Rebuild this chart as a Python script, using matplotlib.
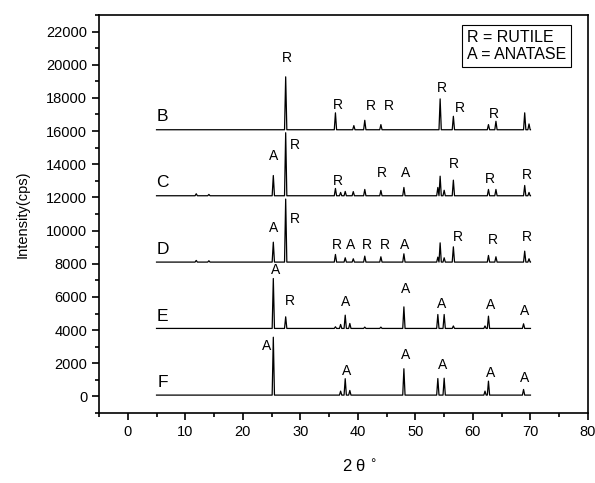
import matplotlib
matplotlib.use('Agg')
import matplotlib.pyplot as plt
from matplotlib.ticker import MultipleLocator

plt.rcParams['font.family'] = ['Liberation Sans', 'DejaVu Sans']

# XRD patterns: baseline offset and (2theta, net intensity) for each peak
names = ['B', 'C', 'D', 'E', 'F']
baselines = [16080, 12100, 8100, 4100, 80]

B_pos = [27.45, 36.1, 39.3, 41.2, 44.0, 54.3, 56.6, 62.7, 64.0, 69.0, 69.75]
B_int = [3190, 1020, 250, 570, 310, 1860, 810, 310, 510, 1020, 350]

C_pos = [11.9, 14.1, 25.3, 27.45, 36.1, 37.0, 37.8, 39.2, 41.2, 44.0, 48.0, 53.9, 54.3, 55.0, 56.6, 62.7, 64.0, 69.0, 69.75]
C_int = [120, 80, 1220, 3800, 440, 200, 260, 250, 380, 320, 500, 500, 1180, 330, 940, 380, 380, 620, 200]

D_pos = [11.9, 14.1, 25.3, 27.45, 36.1, 37.8, 39.2, 41.2, 44.0, 48.0, 53.9, 54.3, 55.0, 56.6, 62.7, 64.0, 69.0, 69.75]
D_int = [100, 80, 1200, 3800, 460, 260, 200, 360, 320, 500, 300, 1160, 260, 920, 400, 320, 660, 200]

E_pos = [25.3, 27.45, 36.1, 37.0, 37.8, 38.6, 41.2, 44.0, 48.0, 53.9, 55.0, 56.6, 62.1, 62.7, 68.8]
E_int = [3010, 700, 100, 240, 800, 300, 80, 80, 1300, 840, 840, 150, 150, 740, 280]

F_pos = [25.3, 37.0, 37.8, 38.6, 48.0, 53.9, 55.0, 62.1, 62.7, 68.8]
F_int = [3490, 240, 990, 280, 1590, 1000, 1020, 240, 840, 340]

peaks = [(B_pos, B_int), (C_pos, C_int), (D_pos, D_int), (E_pos, E_int), (F_pos, F_int)]
scan_start, scan_end = 5, 70

# peak annotations (label, 2theta, intensity)
B_marks = [('R', 27.6, 20410), ('R', 36.6, 17600), ('R', 42.3, 17500), ('R', 45.4, 17500),
           ('R', 54.55, 18600), ('R', 57.7, 17400), ('R', 63.65, 17000)]
C_marks = [('A', 25.3, 14480), ('R', 29.0, 15190), ('R', 36.6, 12980), ('R', 44.2, 13480),
           ('A', 48.3, 13480), ('R', 56.75, 14020), ('R', 62.95, 13080), ('R', 69.45, 13380)]
D_marks = [('A', 25.3, 10170), ('R', 29.0, 10670), ('R', 36.3, 9160), ('A', 38.7, 9160),
           ('R', 41.5, 9160), ('R', 44.7, 9160), ('A', 48.2, 9160), ('R', 57.3, 9600),
           ('R', 63.4, 9460), ('R', 69.45, 9600)]
E_marks = [('A', 25.7, 7650), ('R', 28.2, 5740), ('A', 37.9, 5710), ('A', 48.35, 6450),
           ('A', 54.55, 5550), ('A', 63.1, 5500), ('A', 69.0, 5180)]
F_marks = [('A', 24.1, 3030), ('A', 38.1, 1520), ('A', 48.35, 2490), ('A', 54.8, 1870),
           ('A', 63.1, 1420), ('A', 69.0, 1130)]
all_marks = B_marks + C_marks + D_marks + E_marks + F_marks

name_x = 6.1
name_y = [16880, 12900, 8860, 4800, 860]


def build_trace(base, pos, inten, hw=0.2):
    pts = [(scan_start, base), (scan_end, base)]
    for p, h in zip(pos, inten):
        pts += [(p - hw, base), (p, base + h), (p + hw, base)]
    pts.sort()
    return [p[0] for p in pts], [p[1] for p in pts]


fig = plt.figure(figsize=(5.95, 4.83), dpi=100)
ax = fig.add_axes([0.1664, 0.1449, 0.8218, 0.8241])

for base, (pos, inten) in zip(baselines, peaks):
    x, y = build_trace(base, pos, inten)
    ax.plot(x, y, color='black', lw=0.9)

for name, yy in zip(names, name_y):
    ax.text(name_x, yy, name, fontsize=12.5, ha='center', va='center')

for lab, xx, yy in all_marks:
    ax.text(xx, yy, lab, fontsize=10, ha='center', va='center')

ax.text(0.752, 0.962, 'R = RUTILE\nA = ANATASE', transform=ax.transAxes,
        fontsize=11.5, ha='left', va='top', linespacing=1.2,
        bbox=dict(boxstyle='square,pad=0.3', fc='white', ec='black', lw=0.8))

ax.set_xlim(-5, 80)
ax.set_ylim(-1000, 23000)
ax.xaxis.set_major_locator(MultipleLocator(10))
ax.xaxis.set_minor_locator(MultipleLocator(5))
ax.yaxis.set_major_locator(MultipleLocator(2000))
ax.yaxis.set_minor_locator(MultipleLocator(1000))
ax.tick_params(which='major', direction='out', length=5, width=1.2, labelsize=10.5)
ax.tick_params(which='minor', direction='out', length=3, width=1.2)
for s in ax.spines.values():
    s.set_linewidth(1.2)

ax.set_xlabel(r'2 θ $^{\circ}$', fontsize=12, labelpad=14)
ax.xaxis.label.set_x(0.534)
ax.set_ylabel('Intensity(cps)', fontsize=10.5, labelpad=12)

fig.savefig('out.png', dpi=100)
